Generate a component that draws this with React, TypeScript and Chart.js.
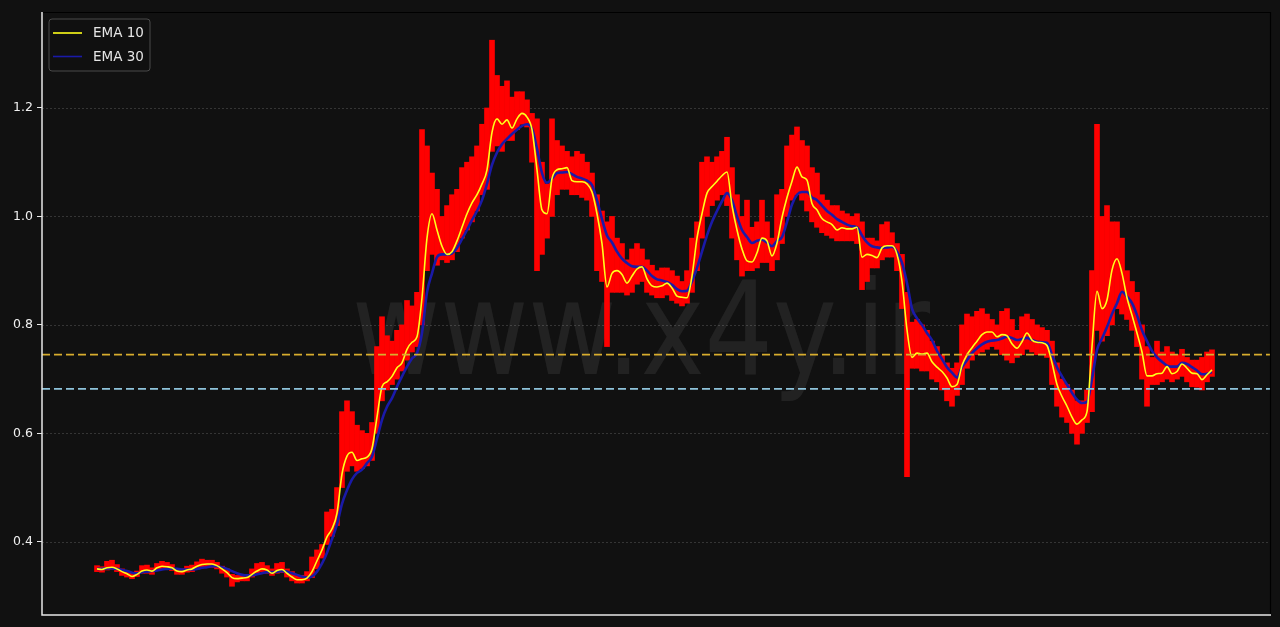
import { useEffect, useRef } from 'react';
import { Chart, registerables } from 'chart.js';

Chart.register(...registerables);

// ---- data (one bar per ~5px) ----
const highs = [
  0.356, 0.354, 0.364, 0.366, 0.358, 0.350, 0.346, 0.342, 0.346, 0.356,
  0.357, 0.352, 0.360, 0.364, 0.362, 0.358, 0.350, 0.350, 0.355, 0.357,
  0.363, 0.368, 0.366, 0.366, 0.362, 0.355, 0.350, 0.340, 0.338, 0.338,
  0.340, 0.350, 0.360, 0.362, 0.356, 0.350, 0.360, 0.362, 0.350, 0.345,
  0.338, 0.338, 0.345, 0.372, 0.385, 0.395, 0.455, 0.460, 0.500, 0.640,
  0.660, 0.640, 0.615, 0.605, 0.600, 0.620, 0.760, 0.815, 0.780, 0.770,
  0.790, 0.800, 0.845, 0.835, 0.860, 1.160, 1.130, 1.080, 1.050, 1.000,
  1.020, 1.040, 1.050, 1.090, 1.100, 1.110, 1.130, 1.170, 1.200, 1.325,
  1.260, 1.240, 1.250, 1.220, 1.230, 1.230, 1.215, 1.190, 1.180, 1.100,
  1.060, 1.180, 1.140, 1.130, 1.120, 1.110, 1.120, 1.115, 1.100, 1.080,
  1.040, 1.010, 0.990, 1.000, 0.960, 0.950, 0.920, 0.940, 0.950, 0.940,
  0.920, 0.910, 0.900, 0.905, 0.905, 0.900, 0.890, 0.880, 0.900, 0.960,
  0.990, 1.100, 1.110, 1.100, 1.110, 1.120, 1.146, 1.090, 1.040, 1.000,
  1.030, 0.980, 0.990, 1.030, 0.990, 0.960, 1.040, 1.050, 1.130, 1.150,
  1.165, 1.140, 1.130, 1.090, 1.080, 1.040, 1.030, 1.020, 1.020, 1.010,
  1.005, 1.000, 1.005, 0.990, 0.960, 0.960, 0.955, 0.985, 0.990, 0.970,
  0.950, 0.930, 0.860, 0.805, 0.810, 0.800, 0.790, 0.770, 0.760, 0.745,
  0.730, 0.720, 0.730, 0.800, 0.820, 0.815, 0.825, 0.830, 0.820, 0.810,
  0.800, 0.825, 0.830, 0.810, 0.790, 0.815, 0.820, 0.810, 0.800, 0.795,
  0.790, 0.770, 0.730, 0.700, 0.690, 0.680, 0.660, 0.660, 0.680, 0.900,
  1.170, 1.000, 1.020, 0.990, 0.990, 0.960, 0.900, 0.880, 0.860, 0.800,
  0.760, 0.740, 0.770, 0.750, 0.760, 0.750, 0.745, 0.755, 0.740, 0.735,
  0.735, 0.740, 0.750, 0.754,
];

const lows = [
  0.345, 0.344, 0.348, 0.349, 0.345, 0.338, 0.335, 0.332, 0.336, 0.342,
  0.342, 0.340, 0.347, 0.350, 0.349, 0.347, 0.340, 0.340, 0.344, 0.345,
  0.350, 0.353, 0.354, 0.353, 0.350, 0.342, 0.335, 0.318, 0.326, 0.328,
  0.328, 0.335, 0.342, 0.345, 0.342, 0.338, 0.342, 0.343, 0.335, 0.328,
  0.324, 0.324, 0.328, 0.334, 0.350, 0.370, 0.395, 0.410, 0.430, 0.500,
  0.530, 0.540, 0.530, 0.535, 0.540, 0.550, 0.600, 0.660, 0.680, 0.690,
  0.700, 0.715, 0.735, 0.750, 0.760, 0.800, 0.900, 0.930, 0.910, 0.920,
  0.915, 0.920, 0.935, 0.960, 0.975, 0.990, 1.010, 1.040, 1.050, 1.120,
  1.130, 1.120, 1.140, 1.140, 1.160, 1.170, 1.165, 1.100, 0.900, 0.930,
  0.960, 1.000, 1.040, 1.050, 1.050, 1.040, 1.040, 1.035, 1.030, 1.000,
  0.900, 0.880, 0.760, 0.860, 0.860, 0.860, 0.855, 0.860, 0.875, 0.880,
  0.860, 0.855, 0.850, 0.850, 0.855, 0.845, 0.840, 0.835, 0.840, 0.860,
  0.900, 0.960, 1.000, 1.020, 1.030, 1.040, 1.020, 0.960, 0.920, 0.890,
  0.900, 0.900, 0.905, 0.915, 0.915, 0.900, 0.920, 0.950, 1.000, 1.030,
  1.040, 1.030, 1.010, 0.990, 0.980, 0.970, 0.965, 0.960, 0.955, 0.955,
  0.955, 0.955, 0.950, 0.865, 0.880, 0.905, 0.905, 0.920, 0.925, 0.925,
  0.900, 0.830, 0.520, 0.720, 0.720, 0.715, 0.715, 0.700, 0.695, 0.680,
  0.660, 0.650, 0.670, 0.690, 0.720, 0.735, 0.745, 0.750, 0.755, 0.760,
  0.755, 0.745, 0.735, 0.730, 0.740, 0.745, 0.755, 0.750, 0.745, 0.745,
  0.740, 0.690, 0.650, 0.630, 0.620, 0.600, 0.580, 0.600, 0.620, 0.640,
  0.790, 0.770, 0.780, 0.800, 0.830, 0.820, 0.810, 0.790, 0.760, 0.700,
  0.650, 0.690, 0.690, 0.695, 0.700, 0.695, 0.700, 0.705, 0.695, 0.686,
  0.685, 0.680, 0.695, 0.705,
];

const ema10 = [
  0.350, 0.349, 0.352, 0.353, 0.350, 0.345, 0.341, 0.336, 0.340, 0.346,
  0.348, 0.346, 0.352, 0.355, 0.354, 0.352, 0.346, 0.345, 0.348, 0.350,
  0.355, 0.358, 0.359, 0.359, 0.356, 0.350, 0.343, 0.334, 0.332, 0.333,
  0.334, 0.340, 0.346, 0.350, 0.348, 0.342, 0.347, 0.349, 0.342, 0.335,
  0.330, 0.330, 0.333, 0.345, 0.365, 0.385, 0.409, 0.424, 0.453, 0.525,
  0.558, 0.565, 0.550, 0.553, 0.556, 0.572, 0.630, 0.686, 0.695, 0.705,
  0.721, 0.730, 0.755, 0.768, 0.778, 0.850, 0.960, 1.005, 0.975, 0.945,
  0.930, 0.935, 0.955, 0.980, 1.005, 1.025, 1.040, 1.060, 1.086, 1.155,
  1.180, 1.170, 1.178, 1.163, 1.180, 1.190, 1.183, 1.160, 1.086, 1.012,
  1.005, 1.070, 1.086, 1.088, 1.090, 1.066, 1.064, 1.064, 1.060, 1.045,
  1.005, 0.950, 0.870, 0.895, 0.900, 0.893, 0.877, 0.890, 0.903, 0.907,
  0.885, 0.872, 0.870, 0.872, 0.877, 0.868, 0.853, 0.851, 0.850, 0.890,
  0.960, 1.005, 1.043, 1.055, 1.065, 1.075, 1.082, 1.020, 0.975, 0.940,
  0.918, 0.916, 0.933, 0.960, 0.955, 0.927, 0.951, 0.998, 1.035, 1.065,
  1.091, 1.073, 1.067, 1.024, 1.012, 0.996, 0.990, 0.985, 0.975, 0.979,
  0.977, 0.977, 0.980, 0.925, 0.930, 0.928, 0.924, 0.942, 0.946, 0.946,
  0.930, 0.880, 0.791, 0.740, 0.748, 0.746, 0.748, 0.732, 0.722, 0.714,
  0.702, 0.686, 0.690, 0.725, 0.745, 0.758, 0.770, 0.782, 0.787, 0.787,
  0.778, 0.782, 0.780, 0.765, 0.757, 0.769, 0.785, 0.772, 0.768, 0.767,
  0.762, 0.730, 0.690, 0.668, 0.650, 0.630, 0.617, 0.625, 0.640, 0.760,
  0.862, 0.830, 0.846, 0.901, 0.922, 0.895, 0.850, 0.818, 0.785, 0.750,
  0.706, 0.706, 0.710, 0.711, 0.723, 0.710, 0.714, 0.728, 0.720, 0.711,
  0.710, 0.699, 0.708, 0.717,
];

const ema30 = [
  0.350, 0.350, 0.351, 0.351, 0.350, 0.348, 0.346, 0.343, 0.342, 0.344,
  0.345, 0.346, 0.347, 0.349, 0.350, 0.351, 0.350, 0.349, 0.349, 0.349,
  0.350, 0.352, 0.353, 0.355, 0.355, 0.353, 0.350, 0.346, 0.342, 0.339,
  0.338, 0.338, 0.340, 0.342, 0.344, 0.344, 0.345, 0.346, 0.345, 0.342,
  0.339, 0.336, 0.334, 0.336, 0.345, 0.360, 0.380, 0.405, 0.432, 0.470,
  0.495, 0.515, 0.527, 0.533, 0.545, 0.557, 0.590, 0.625, 0.649, 0.665,
  0.686, 0.705, 0.723, 0.738, 0.748, 0.785, 0.860, 0.895, 0.925, 0.930,
  0.930, 0.932, 0.942, 0.958, 0.975, 0.993, 1.010, 1.030, 1.060, 1.095,
  1.118, 1.133, 1.143, 1.152, 1.160, 1.167, 1.170, 1.162, 1.125, 1.080,
  1.062, 1.070, 1.080, 1.081, 1.082, 1.078, 1.073, 1.070, 1.066, 1.058,
  1.030, 0.995, 0.965, 0.952, 0.935, 0.922, 0.914, 0.908, 0.907, 0.907,
  0.900, 0.890, 0.884, 0.882, 0.879, 0.874, 0.866, 0.862, 0.863, 0.880,
  0.905, 0.935, 0.965, 0.990, 1.010, 1.028, 1.043, 1.030, 1.000, 0.975,
  0.962, 0.951, 0.955, 0.957, 0.952, 0.945, 0.955, 0.962, 0.990, 1.022,
  1.040, 1.045, 1.045, 1.035, 1.030, 1.020, 1.010, 1.003, 0.995, 0.990,
  0.985, 0.982, 0.980, 0.965, 0.952, 0.945, 0.943, 0.942, 0.943, 0.944,
  0.935, 0.915, 0.877, 0.830, 0.812, 0.800, 0.785, 0.772, 0.752, 0.737,
  0.722, 0.712, 0.703, 0.722, 0.735, 0.748, 0.757, 0.764, 0.769, 0.771,
  0.772, 0.775, 0.778, 0.776, 0.772, 0.774, 0.776, 0.772, 0.769, 0.768,
  0.767, 0.745, 0.722, 0.705, 0.690, 0.675, 0.662, 0.656, 0.658, 0.700,
  0.754, 0.775, 0.796, 0.820, 0.840, 0.861, 0.852, 0.840, 0.818, 0.790,
  0.770, 0.752, 0.740, 0.732, 0.725, 0.723, 0.723, 0.730, 0.728, 0.722,
  0.716, 0.709, 0.710, 0.713,
];

const yTicks = [0.4, 0.6, 0.8, 1.0, 1.2];
const levels = [0.745, 0.682];
const levelColors = ['#d8ad2e', '#8ec3db'];
const legendLabels = ['EMA 10', 'EMA 30'];
const lineColors = ['#ffff1a', '#1a1aa8'];
const watermark = 'www.x4y.ir';

const X_MIN = -11;
const X_MAX = 234.6;
const Y_MIN = 0.265;
const Y_MAX = 1.377;

const bgPlugin = {
  id: 'bgPlugin',
  beforeDraw(chart: any) {
    const { ctx, width, height } = chart;
    ctx.save();
    ctx.fillStyle = '#111111';
    ctx.fillRect(0, 0, width, height);
    ctx.restore();
  },
};

const gridAndMarkPlugin = {
  id: 'gridAndMark',
  beforeDatasetsDraw(chart: any) {
    const { ctx, chartArea } = chart;
    const yScale = chart.scales.y;
    ctx.save();
    ctx.strokeStyle = 'rgba(255,255,255,0.22)';
    ctx.lineWidth = 0.7;
    ctx.setLineDash([2, 2]);
    yTicks.forEach((t) => {
      const y = Math.round(yScale.getPixelForValue(t)) + 0.5;
      ctx.beginPath();
      ctx.moveTo(chartArea.left, y);
      ctx.lineTo(chartArea.right, y);
      ctx.stroke();
    });
    ctx.setLineDash([]);
    ctx.font = '130px "DejaVu Sans"';
    const w = ctx.measureText(watermark).width;
    const target = 578;
    ctx.translate(chartArea.left + 310, yScale.getPixelForValue(0.71));
    ctx.scale(target / w, 1);
    ctx.fillStyle = 'rgba(255,255,255,0.075)';
    ctx.textBaseline = 'alphabetic';
    ctx.fillText(watermark, 0, 0);
    ctx.restore();
  },
};

const framePlugin = {
  id: 'framePlugin',
  afterDraw(chart: any) {
    const { ctx, chartArea } = chart;
    const { left, right, top, bottom } = chartArea;
    ctx.save();
    ctx.strokeStyle = '#000000';
    ctx.lineWidth = 1.2;
    ctx.beginPath();
    ctx.moveTo(left, top + 0.5);
    ctx.lineTo(right + 0.5, top + 0.5);
    ctx.lineTo(right + 0.5, bottom);
    ctx.stroke();
    ctx.strokeStyle = '#e8e8e8';
    ctx.lineWidth = 1.5;
    ctx.beginPath();
    ctx.moveTo(left, top);
    ctx.lineTo(left, bottom);
    ctx.lineTo(right + 1, bottom);
    ctx.stroke();

    const bx = 49, by = 19, bw = 101, bh = 52, r = 3;
    ctx.beginPath();
    ctx.moveTo(bx + r, by);
    ctx.lineTo(bx + bw - r, by);
    ctx.quadraticCurveTo(bx + bw, by, bx + bw, by + r);
    ctx.lineTo(bx + bw, by + bh - r);
    ctx.quadraticCurveTo(bx + bw, by + bh, bx + bw - r, by + bh);
    ctx.lineTo(bx + r, by + bh);
    ctx.quadraticCurveTo(bx, by + bh, bx, by + bh - r);
    ctx.lineTo(bx, by + r);
    ctx.quadraticCurveTo(bx, by, bx + r, by);
    ctx.closePath();
    ctx.fillStyle = 'rgba(17,17,17,0.85)';
    ctx.fill();
    ctx.strokeStyle = '#4a4a4a';
    ctx.lineWidth = 1;
    ctx.stroke();
    ctx.font = '13.5px "DejaVu Sans"';
    ctx.textBaseline = 'middle';
    legendLabels.forEach((lab, i) => {
      const ly = 33 + i * 23.5;
      ctx.strokeStyle = lineColors[i];
      ctx.lineWidth = 1.6;
      ctx.beginPath();
      ctx.moveTo(53, ly);
      ctx.lineTo(82, ly);
      ctx.stroke();
      ctx.fillStyle = '#e6e6e6';
      ctx.fillText(lab, 93, ly + 0.5);
    });
    ctx.restore();
  },
};

export default function App() {
  const canvasRef = useRef<HTMLCanvasElement | null>(null);

  useEffect(() => {
    document.body.style.margin = '0';
    document.body.style.background = '#111111';
    const canvas = canvasRef.current;
    if (!canvas) return;

    const barData = highs.map((h, i) => ({ x: i, y: [lows[i], h] }));
    const e10Data = ema10.map((v, i) => ({ x: i, y: v }));
    const e30Data = ema30.map((v, i) => ({ x: i, y: v }));

    const levelSets = levels.map((lv, k) => ({
      type: 'line' as const,
      data: [
        { x: X_MIN, y: lv },
        { x: X_MAX, y: lv },
      ],
      borderColor: levelColors[k],
      borderWidth: 1.8,
      borderDash: [8, 4],
      pointRadius: 0,
      order: 0,
    }));

    const chart = new Chart(canvas, {
      type: 'bar',
      data: {
        datasets: [
          {
            type: 'bar',
            data: barData as any,
            backgroundColor: '#ff0000',
            borderWidth: 0,
            barThickness: 5,
            grouped: false,
            order: 3,
          } as any,
          {
            type: 'line',
            data: e30Data,
            borderColor: lineColors[1],
            borderWidth: 2.6,
            pointRadius: 0,
            cubicInterpolationMode: 'monotone',
            order: 2,
          } as any,
          {
            type: 'line',
            data: e10Data,
            borderColor: lineColors[0],
            borderWidth: 1.6,
            pointRadius: 0,
            cubicInterpolationMode: 'monotone',
            order: 1,
          } as any,
          ...levelSets,
        ],
      },
      options: {
        animation: false,
        responsive: true,
        maintainAspectRatio: false,
        layout: { padding: { top: 12, right: 10, bottom: 12, left: 0 } },
        plugins: {
          legend: { display: false },
          tooltip: { enabled: false },
        },
        scales: {
          x: {
            type: 'linear',
            min: X_MIN,
            max: X_MAX,
            offset: false,
            bounds: 'data',
            ticks: { display: false },
            grid: { display: false, drawTicks: false, offset: false },
            border: { display: false },
            afterFit: (s: any) => {
              s.height = 0;
            },
          },
          y: {
            type: 'linear',
            min: Y_MIN,
            max: Y_MAX,
            afterBuildTicks: (s: any) => {
              s.ticks = yTicks.map((v) => ({ value: v }));
            },
            afterFit: (s: any) => {
              s.width = 42;
            },
            ticks: {
              color: '#f0f0f0',
              font: { family: '"DejaVu Sans"', size: 12.5 },
              padding: 4,
              callback: (v: any) => Number(v).toFixed(1),
            },
            grid: {
              drawOnChartArea: false,
              drawTicks: true,
              tickLength: 5,
              tickColor: '#e8e8e8',
              tickWidth: 1,
            },
            border: { display: false },
          },
        },
      } as any,
      plugins: [bgPlugin, gridAndMarkPlugin, framePlugin],
    });

    return () => chart.destroy();
  }, []);

  return (
    <div
      style={{
        position: 'fixed',
        left: 0,
        top: 0,
        width: 1280,
        height: 627,
        background: '#111111',
      }}
    >
      <canvas ref={canvasRef} />
    </div>
  );
}
